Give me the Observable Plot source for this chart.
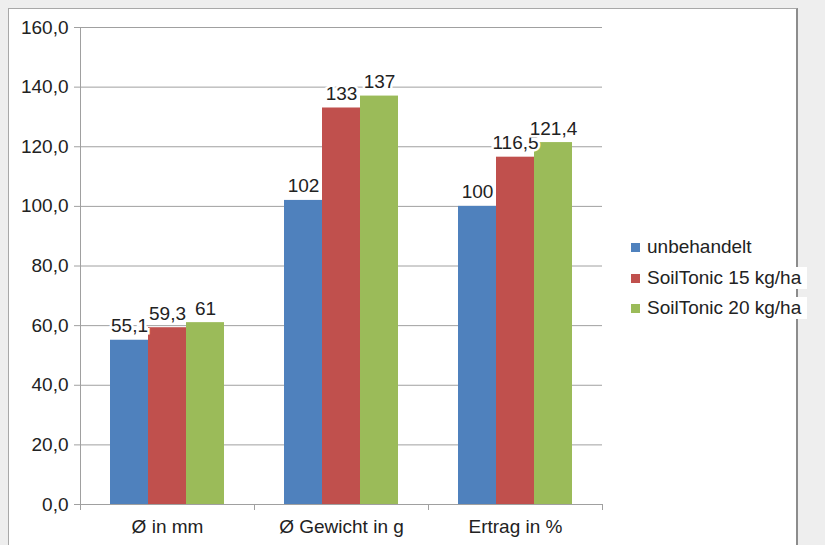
<!DOCTYPE html>
<html>
<head>
<meta charset="utf-8">
<script src="https://cdn.jsdelivr.net/npm/d3@7"></script>
<script src="https://cdn.jsdelivr.net/npm/@observablehq/plot@0.6"></script>
<style>
  html, body { margin: 0; padding: 0; }
  body { width: 825px; height: 545px; overflow: hidden; background: #eeeeee; position: relative;
         font-family: "Liberation Sans", Arial, sans-serif; }
  #panel { position: absolute; left: 8px; top: 8px; width: 787px; height: 600px; background: #fff;
           border-left: 1px solid #a8a8a8; border-top: 1px solid #a8a8a8; border-right: 2px solid #8c8c8c; }
  #chart { position: absolute; left: 0; top: 0; }
  #legend { position: absolute; left: 0; top: 0; }
  .lg-row { position: absolute; height: 22px; display: flex; align-items: center; white-space: nowrap; }
  .lg-sw { width: 9px; height: 9px; margin-right: 5px; flex: none; }
  .lg-tx { background: #fff; color: #222; font-size: 19px; padding: 0 6px 0 2px; line-height: 22px; white-space: nowrap; }
</style>
</head>
<body>
<div id="panel"></div>
<div id="chart"></div>
<div id="legend"></div>
<script>
const categories = ["Ø in mm", "Ø Gewicht in g", "Ertrag in %"];
const seriesNames = ["unbehandelt", "SoilTonic 15 kg/ha", "SoilTonic 20 kg/ha"];
const colors = ["#4F81BD", "#C0504D", "#9BBB59"];
const unbehandelt = [55.1, 102, 100];
const soilTonic15 = [59.3, 133, 116.5];
const soilTonic20 = [61, 137, 121.4];
const yTicks = [0, 20, 40, 60, 80, 100, 120, 140, 160];

const seriesValues = [unbehandelt, soilTonic15, soilTonic20];
const rows = [];
categories.forEach((cat, i) => {
  seriesNames.forEach((s, j) => {
    rows.push({cat, series: s, value: seriesValues[j][i]});
  });
});
const deNum = v => String(v).replace(".", ",");
const yFmt = v => v.toFixed(1).replace(".", ",");

const W = 825, H = 545, mL = 79, mR = 223, mT = 27, mB = 41;
const grid = "#a0a0a0";
const font = "Liberation Sans, Arial, sans-serif";

const chart = Plot.plot({
  width: W, height: H,
  marginLeft: mL, marginRight: mR, marginTop: mT, marginBottom: mB,
  style: {background: "transparent", fontFamily: font, fontSize: "19px", color: "#222"},
  fx: {domain: categories, padding: 0, label: null, axis: null},
  x: {domain: seriesNames, paddingInner: 0, paddingOuter: 0.735, axis: null},
  y: {domain: [0, 160], axis: null},
  color: {domain: seriesNames, range: colors},
  marks: [
    Plot.gridY(yTicks, {stroke: grid, strokeOpacity: 1}),
    Plot.frame({anchor: "left", facet: "super", stroke: grid}),
    Plot.frame({anchor: "bottom", facet: "super", stroke: grid}),
    Plot.frame({anchor: "left", insetTop: H - mT - mB, insetBottom: -5, stroke: grid}),
    Plot.frame({anchor: "right", insetTop: H - mT - mB, insetBottom: -5, stroke: grid}),
    Plot.axisY(yTicks, {tickFormat: yFmt, tickSize: 6, tickPadding: 6, stroke: grid, fill: "#222", fontSize: 19, label: null}),
    Plot.axisFx({anchor: "bottom", tickSize: 0, tickPadding: 15, fontSize: 19, fill: "#222", label: null}),
    Plot.barY(rows, {fx: "cat", x: "series", y: "value", fill: "series"}),
    Plot.text(rows, {fx: "cat", x: "series", y: "value", text: d => deNum(d.value),
      lineAnchor: "bottom", dy: -8, fontSize: 19, fill: "#222",
      stroke: "white", strokeWidth: 5, strokeLinejoin: "miter"})
  ]
});
document.getElementById("chart").appendChild(chart);

const legend = document.getElementById("legend");
const legendTops = [236, 267, 297];
seriesNames.forEach((s, i) => {
  const row = document.createElement("div");
  row.className = "lg-row";
  row.style.left = "631px";
  row.style.top = legendTops[i] + "px";
  const sw = document.createElement("span");
  sw.className = "lg-sw";
  sw.style.background = colors[i];
  const tx = document.createElement("span");
  tx.className = "lg-tx";
  tx.textContent = s;
  row.appendChild(sw);
  row.appendChild(tx);
  legend.appendChild(row);
});
</script>
</body>
</html>
